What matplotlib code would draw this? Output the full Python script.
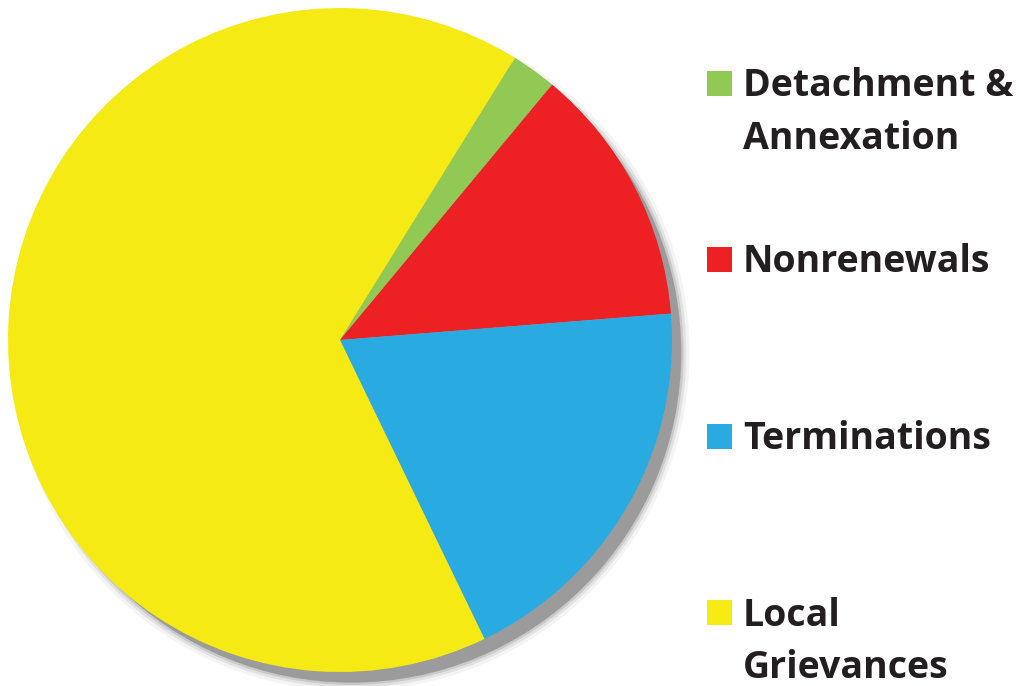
import matplotlib.pyplot as plt
from matplotlib.patches import Circle, Rectangle

# slice shares (percent)
labels = ['Detachment &\nAnnexation', 'Nonrenewals', 'Terminations', 'Local\nGrievances']
shares = [2.2, 12.7, 19.1, 66.0]
colors = ['#92C954', '#ED2024', '#29ABE2', '#F5EA14']

fig = plt.figure(figsize=(10.2, 6.86), dpi=100)
ax = fig.add_axes([8 / 1020, 14 / 686, 664 / 1020, 664 / 686])

# soft grey shadow behind the pie
for k, a in zip([1.025, 1.015, 1.007, 1.0], [0.1, 0.2, 0.35, 1.0]):
    ax.add_patch(Circle((0.034, -0.038), k - 0.006, color='#9b9b9b', alpha=a, lw=0, zorder=0))

wedges, _ = ax.pie(shares, colors=colors, startangle=58.2, counterclock=False,
                   radius=1, wedgeprops=dict(linewidth=0))
for w in wedges:
    w.set_zorder(2)
ax.set_xlim(-1, 1)
ax.set_ylim(-1, 1)
ax.set_aspect('equal')
ax.axis('off')
for p in ax.patches:
    p.set_clip_on(False)

# legend drawn by hand on the right
row_base = [96, 272, 449, 625]  # pixel baseline of the first line of each entry
line_gap = 53
for lab, col, y in zip(labels, colors, row_base):
    fig.patches.append(Rectangle((707 / 1020, 1 - y / 686), 25 / 1020, 25 / 686,
                                 transform=fig.transFigure, color=col, lw=0))
    y_last = y + line_gap * lab.count('\n')
    fig.text(743 / 1020, 1 - y_last / 686, lab, ha='left', va='baseline',
             fontsize=27, fontweight='bold', family='Open Sans', color='#231F20',
             linespacing=1.5)

fig.savefig('out.png', dpi=100)
